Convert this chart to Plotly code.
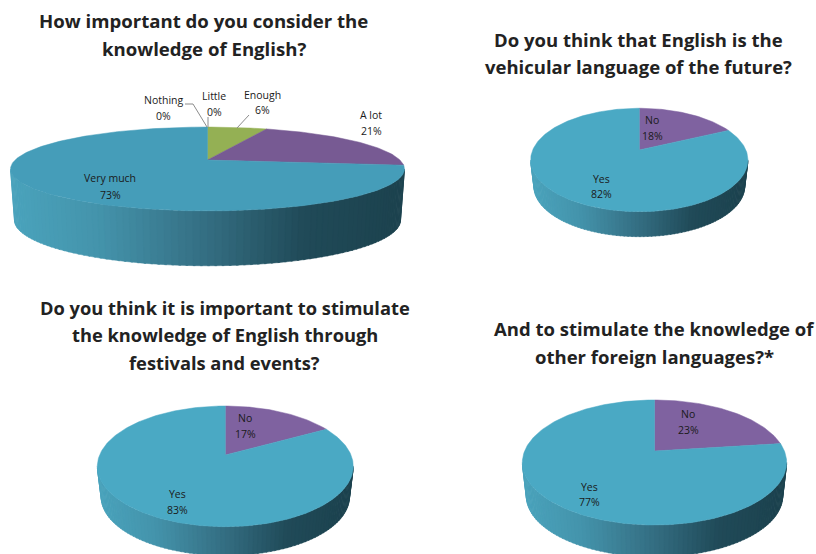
import math
import plotly.graph_objects as go

# Survey answers, in clockwise order from twelve o'clock
q1_labels = ["Enough", "A lot", "Very much", "Nothing", "Little"]
q1_values = [6, 21, 73, 0, 0]
q2_labels = ["No", "Yes"]
q2_values = [18, 82]
q3_labels = ["No", "Yes"]
q3_values = [17, 83]
q4_labels = ["No", "Yes"]
q4_values = [23, 77]

q1_title = ["How important do you consider the", "knowledge of English?"]
q2_title = ["Do you think that English is the", "vehicular language of the future?"]
q3_title = ["Do you think it is important to stimulate",
            "the knowledge of English through", "festivals and events?"]
q4_title = ["And to stimulate the knowledge of", "other foreign languages?*"]

GREEN = "#94B054"
PURPLE = "#7F62A0"
BLUE = "#4AA9C4"
DARK_TEXT = "#1a1a1a"
WALL_STOPS = [(0.0, (74, 163, 188)), (0.22, (68, 148, 172)), (0.5, (52, 110, 130)),
              (0.75, (32, 74, 88)), (1.0, (28, 66, 78))]


def wall_colour(f):
    for (a, ca), (b, cb) in zip(WALL_STOPS, WALL_STOPS[1:]):
        if f <= b:
            u = (f - a) / (b - a)
            return "rgb(%d,%d,%d)" % tuple(round(x + (y - x) * u) for x, y in zip(ca, cb))
    return "rgb(%d,%d,%d)" % WALL_STOPS[-1][1]


# Perspective view of a tilted disc: angle runs clockwise from the back of the disc
def rim(p, t, lower=False):
    s = 1 / (1 + p["k"] * math.cos(t))
    f = p["f"] if lower else 1.0
    g = p["g"] if lower else 1.0
    y0 = p["cy"] + (p["d"] if lower else 0)
    return p["cx"] + f * p["R"] * math.sin(t) * s, y0 - g * f * p["B"] * math.cos(t) * s


def add_pie(fig, p, values, colours):
    k = p["k"]
    t_right = math.acos(-k)
    t_left = 2 * math.pi - t_right
    n = 90
    xl = rim(p, t_left)[0]
    xr = rim(p, t_right)[0]
    # Side wall, shaded strip by strip from left to right
    for i in range(n):
        a = t_left - (t_left - t_right) * i / n
        b = t_left - (t_left - t_right) * (i + 1.3) / n
        b = max(b, t_right)
        ts = [a + (b - a) * j / 3 for j in range(4)]
        top = [rim(p, t) for t in ts]
        bot = [rim(p, t, True) for t in reversed(ts)]
        pts = top + bot + [top[0]]
        frac = (rim(p, (a + b) / 2)[0] - xl) / (xr - xl)
        col = wall_colour(frac)
        fig.add_trace(go.Scatter(x=[q[0] for q in pts], y=[q[1] for q in pts], mode="lines",
                                 fill="toself", fillcolor=col, line=dict(color=col, width=0.5),
                                 hoverinfo="skip", showlegend=False))
    # Top face, one wedge per answer
    total = sum(values)
    start = 0.0
    for v, col in zip(values, colours):
        if v > 0:
            end = start + 2 * math.pi * v / total
            steps = max(3, int(v * 3))
            arc = [rim(p, start + (end - start) * j / steps) for j in range(steps + 1)]
            pts = [(p["cx"], p["cy"])] + arc + [(p["cx"], p["cy"])]
            fig.add_trace(go.Scatter(x=[q[0] for q in pts], y=[q[1] for q in pts], mode="lines",
                                     fill="toself", fillcolor=col, line=dict(color=col, width=0.5),
                                     hoverinfo="skip", showlegend=False))
        start += 2 * math.pi * v / total


def add_text(fig, x, y, text, size, bold=False, font="Open Sans"):
    fig.add_annotation(x=x, y=y, text="<b>%s</b>" % text if bold else text, showarrow=False,
                       xanchor="center", yanchor="middle",
                       font=dict(family=font, size=size, color=DARK_TEXT if not bold else "#222222"))


fig = go.Figure()

PIES = [
    dict(cx=207.5, cy=160, R=192.4, B=40.0, k=0.214, d=50.4, f=0.98, g=1.11),
    dict(cx=639.3, cy=150, R=106.6, B=49.8, k=0.193, d=26.8, f=0.97, g=1.0),
    dict(cx=225.3, cy=455, R=125.7, B=58.2, k=0.188, d=31, f=0.97, g=1.0),
    dict(cx=654.5, cy=451, R=129.9, B=60.4, k=0.184, d=34, f=0.97, g=1.0),
]

add_pie(fig, PIES[0], q1_values, [GREEN, "#775A93", "#459DB9", "#459DB9", "#459DB9"])
add_pie(fig, PIES[1], q2_values, [PURPLE, BLUE])
add_pie(fig, PIES[2], q3_values, [PURPLE, BLUE])
add_pie(fig, PIES[3], q4_values, [PURPLE, BLUE])

# Leader lines for the smallest slices of the first pie
LEADERS = [([185, 193, 207], [104, 104, 127]), ([208, 208], [117, 127]), ([249, 237], [115, 128])]
for lx, ly in LEADERS:
    fig.add_trace(go.Scatter(x=lx, y=ly, mode="lines", line=dict(color="#8c8c8c", width=1),
                             hoverinfo="skip", showlegend=False))

# Slice labels: name above, percentage below
SLICE_TEXT = [
    (q1_labels[3], q1_values[3], 163, 100, 116),
    (q1_labels[4], q1_values[4], 214, 96, 112),
    (q1_labels[0], q1_values[0], 262, 95, 110),
    (q1_labels[1], q1_values[1], 371, 115, 131),
    (q1_labels[2], q1_values[2], 110, 178, 195),
    (q2_labels[0], q2_values[0], 652, 120, 136),
    (q2_labels[1], q2_values[1], 601, 179, 194),
    (q3_labels[0], q3_values[0], 245, 418, 434),
    (q3_labels[1], q3_values[1], 177, 494, 510),
    (q4_labels[0], q4_values[0], 688, 414, 430),
    (q4_labels[1], q4_values[1], 589, 487, 502),
]
for name, val, x, y1, y2 in SLICE_TEXT:
    add_text(fig, x, y1, name, 10.5)
    add_text(fig, x, y2, "%d%%" % val, 10.5)

TITLES = [(q1_title, 203.5, [20, 48.5], 18.6), (q2_title, 638, [39, 66], 18.5),
          (q3_title, 224.5, [307, 334, 362], 18.3), (q4_title, 654, [328.5, 356], 18.5)]
for lines, x, ys, size in TITLES:
    for line, y in zip(lines, ys):
        add_text(fig, x, y, line, size, bold=True)

fig.update_layout(width=816, height=554, margin=dict(l=0, r=0, t=0, b=0),
                  plot_bgcolor="white", paper_bgcolor="white", showlegend=False,
                  xaxis=dict(range=[0, 816], visible=False, fixedrange=True),
                  yaxis=dict(range=[554, 0], visible=False, fixedrange=True))
fig.write_html("out.html", config=dict(displayModeBar=False))
